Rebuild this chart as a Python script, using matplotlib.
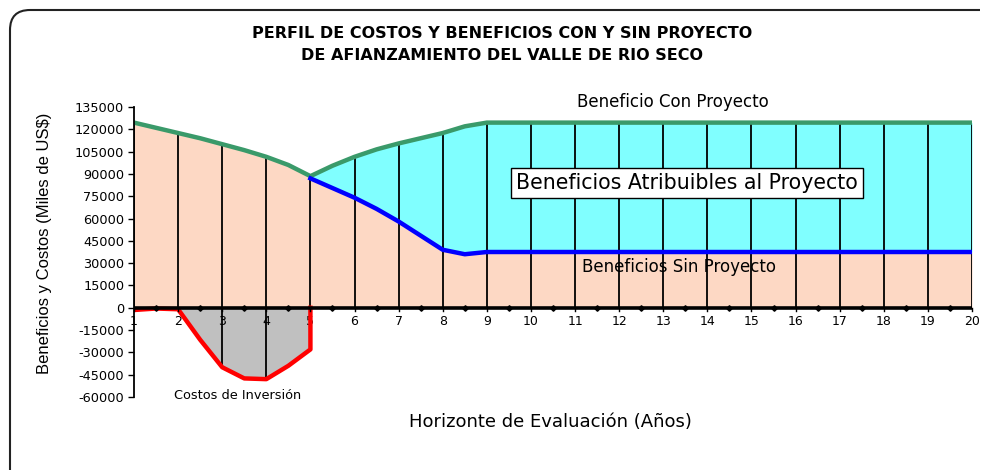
import numpy as np
import matplotlib
matplotlib.use("Agg")
import matplotlib.pyplot as plt
from matplotlib.path import Path
from matplotlib.patches import PathPatch

# ---------------- data ----------------
years = [1.0, 1.5, 2.0, 2.5, 3.0, 3.5, 4.0, 4.5, 5.0, 5.5, 6.0, 6.5, 7.0, 7.5, 8.0,
         8.5, 9.0, 9.5, 10.0, 10.5, 11.0, 11.5, 12.0, 12.5, 13.0, 13.5, 14.0, 14.5,
         15.0, 15.5, 16.0, 16.5, 17.0, 17.5, 18.0, 18.5, 19.0, 19.5, 20.0]
con_proyecto = [124500, 121000, 117500, 114000, 110000, 106000, 101500, 96000, 88500,
                95500, 101500, 106500, 110500, 114000, 117500, 122000, 124500, 124500,
                124500, 124500, 124500, 124500, 124500, 124500, 124500, 124500, 124500,
                124500, 124500, 124500, 124500, 124500, 124500, 124500, 124500, 124500,
                124500, 124500, 124500]
sin_years = [5.0, 5.5, 6.0, 6.5, 7.0, 7.5, 8.0, 8.5, 9.0, 9.5, 10.0, 10.5, 11.0, 11.5,
             12.0, 12.5, 13.0, 13.5, 14.0, 14.5, 15.0, 15.5, 16.0, 16.5, 17.0, 17.5,
             18.0, 18.5, 19.0, 19.5, 20.0]
sin_proyecto = [87000, 80500, 74000, 66500, 58000, 48500, 39000, 36000, 37500, 37500,
                37500, 37500, 37500, 37500, 37500, 37500, 37500, 37500, 37500, 37500,
                37500, 37500, 37500, 37500, 37500, 37500, 37500, 37500, 37500, 37500,
                37500]
cost_years = [1.0, 1.5, 2.0, 2.5, 3.0, 3.5, 4.0, 4.5, 5.0]
costos = [-1500, -500, -1000, -21500, -40000, -47500, -48000, -39000, -28000]

x_ticks = list(range(1, 21))
y_ticks = [135000, 120000, 105000, 90000, 75000, 60000, 45000, 30000, 15000, 0,
           -15000, -30000, -45000, -60000]

title_lines = ["PERFIL DE COSTOS Y BENEFICIOS CON Y SIN PROYECTO",
               "DE AFIANZAMIENTO DEL VALLE DE RIO SECO"]
x_label = "Horizonte de Evaluación (Años)"
y_label = "Beneficios y Costos (Miles de US$)"

# ---------------- colours ----------------
PEACH = "#FDD8C4"
CYAN = "#80FFFF"
GREEN = "#3A9A6A"
BLUE = "#0000FF"
RED = "#FF0000"
GREY = "#C0C0C0"

plt.rcParams['font.family'] = ['DejaVu Sans']

W, H = 985, 473
fig = plt.figure(figsize=(W / 100, H / 100), dpi=100)
fig.patch.set_facecolor("white")

def fx(px):
    return px / W

def fy(py):
    return 1 - py / H

ax = fig.add_axes([fx(134), fy(397), fx(972) - fx(134), fy(107) - fy(397)])
ax.set_xlim(1, 20)
ax.set_ylim(-60000, 135000)
ax.set_facecolor("none")

yrs = np.array(years)
con = np.array(con_proyecto, dtype=float)
sy = np.array(sin_years)
sin = np.array(sin_proyecto, dtype=float)
cy = np.array(cost_years)
cst = np.array(costos, dtype=float)

# base under-benefit: "con" before the project, "sin" after
sin_on_grid = np.interp(yrs, sy, sin, left=np.nan)
base = np.where(np.isnan(sin_on_grid), con, sin_on_grid)

# fills
ax.fill_between(yrs, 0, base, color=PEACH, lw=0, zorder=1)
mask = yrs >= sy[0]
ax.fill_between(yrs[mask], sin_on_grid[mask], con[mask], color=CYAN, lw=0, zorder=1)
cmask = cy >= 2
ax.fill_between(cy[cmask], cst[cmask], 0, color=GREY, lw=0, zorder=1)

# vertical drop lines at each year
for yv in x_ticks:
    top = np.interp(yv, yrs, con)
    bottom = np.interp(yv, cy, cst) if 3 <= yv <= cy[-1] else 0
    ax.plot([yv, yv], [bottom, top], color="black", lw=1.3, zorder=2)

# lines
ax.plot(yrs, con, color=GREEN, lw=3.2, zorder=4, solid_joinstyle="round")
ax.plot(sy, sin, color=BLUE, lw=3.2, zorder=4, solid_joinstyle="round")
ax.plot(np.append(cy, cy[-1]), np.append(cst, 0), color=RED, lw=3.2, zorder=4,
        solid_joinstyle="round")

# zero axis with half-year markers
ax.axhline(0, color="black", lw=2.6, zorder=5)
half = [y for y in years if y % 1 == 0.5]
ax.plot(half, [0] * len(half), linestyle="none", marker="D", ms=2.8,
        color="black", zorder=5)

# spines and ticks
for s in ["top", "right", "bottom"]:
    ax.spines[s].set_visible(False)
ax.spines["left"].set_linewidth(1.3)
ax.spines["left"].set_zorder(6)
ax.set_yticks(y_ticks)
ax.set_yticklabels([str(v) for v in y_ticks], fontsize=9.3)
ax.tick_params(axis="y", direction="out", length=4, width=1, pad=3)
ax.set_xticks([])
for xv in x_ticks:
    ax.plot([xv, xv], [0, -2500], color="black", lw=1, zorder=5, clip_on=False)
    ax.text(xv, -9500, str(xv), ha="center", va="center", fontsize=9)

# annotations
ax.text(13.22, 138500, "Beneficio Con Proyecto", ha="center", va="center", fontsize=12)
ax.text(13.54, 84100, "Beneficios Atribuibles al Proyecto", ha="center", va="center",
        fontsize=14.8, zorder=7,
        bbox=dict(boxstyle="square,pad=0.25", fc="white", ec="black", lw=1))
ax.text(13.36, 27600, "Beneficios Sin Proyecto", ha="center", va="center", fontsize=12,
        zorder=7)
ax.text(3.34, -59200, "Costos de Inversión", ha="center", va="center", fontsize=9.3)

# titles and axis labels
fig.text(fx(502), fy(33), title_lines[0], ha="center", va="center", fontsize=11.5,
         fontweight="bold")
fig.text(fx(502), fy(55), title_lines[1], ha="center", va="center", fontsize=11.5,
         fontweight="bold")
fig.text(fx(550), fy(422), x_label, ha="center", va="center", fontsize=13)
fig.text(fx(45), fy(243), y_label, ha="center", va="center", fontsize=12,
         rotation=90, family=['Liberation Sans'])

# outer rounded frame (top and left edges)
verts = [(fx(10), fy(470)), (fx(10), fy(30)), (fx(10), fy(10)), (fx(30), fy(10)),
         (fx(980), fy(10))]
codes = [Path.MOVETO, Path.LINETO, Path.CURVE3, Path.CURVE3, Path.LINETO]
frame = PathPatch(Path(verts, codes), transform=fig.transFigure, fill=False,
                  ec="#222222", lw=1.5)
fig.patches.append(frame)

fig.savefig("out.png", dpi=100)
